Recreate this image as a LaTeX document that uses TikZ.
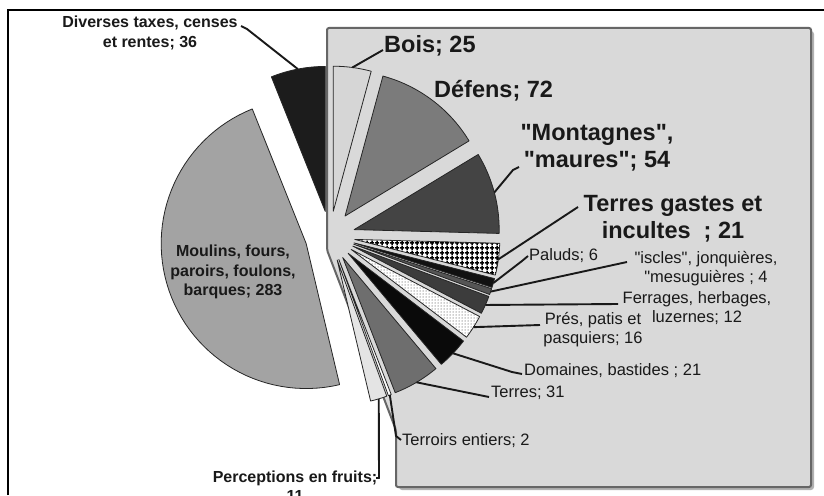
\documentclass[tikz,border=0pt]{standalone}
\usepackage{fontspec}
\setmainfont{Liberation Sans}[Ligatures=TeXOff]
\usetikzlibrary{patterns}
\pgfdeclarepatternformonly{pgrid}{\pgfpointorigin}{\pgfpoint{5pt}{5pt}}{\pgfpoint{5pt}{5pt}}{%
 \pgfsetlinewidth{1.8pt}%
 \pgfpathmoveto{\pgfpoint{0pt}{2.5pt}}\pgfpathlineto{\pgfpoint{5pt}{2.5pt}}%
 \pgfpathmoveto{\pgfpoint{2.5pt}{0pt}}\pgfpathlineto{\pgfpoint{2.5pt}{5pt}}%
 \pgfusepath{stroke}}
\pgfdeclarepatternformonly{pdots}{\pgfpoint{-1pt}{-1pt}}{\pgfpoint{1pt}{1pt}}{\pgfpoint{3pt}{3pt}}{%
 \pgfpathcircle{\pgfpointorigin}{0.75pt}\pgfusepath{fill}}
\definecolor{boxbg}{HTML}{D9D9D9}
\definecolor{boxln}{HTML}{666666}
\definecolor{boisc}{HTML}{D6D6D6}
\definecolor{defc}{HTML}{7B7B7B}
\definecolor{montc}{HTML}{444444}
\definecolor{paluc}{HTML}{111111}
\definecolor{iscc}{HTML}{555555}
\definecolor{ferc}{HTML}{3C3C3C}
\definecolor{domc}{HTML}{0A0A0A}
\definecolor{terc}{HTML}{6E6E6E}
\definecolor{perc}{HTML}{E4E4E4}
\definecolor{moulc}{HTML}{A3A3A3}
\definecolor{divc}{HTML}{1C1C1C}
\newcommand\pieslice[4]{%
 \pgfmathsetmacro\tA{#1*0.6060606}%
 \pgfmathsetmacro\tB{#2*0.6060606}%
 \pgfmathsetmacro\tM{(\tA+\tB)/2}%
 \pgfmathsetmacro\ax{330+25*sin(\tM)}%
 \pgfmathsetmacro\ay{236-25*cos(\tM)}%
 \pgfmathsetmacro\aA{\tA-90}%
 \pgfmathsetmacro\aB{\tB-90}%
 \path[#3] (\ax,\ay) -- plot[domain=\aA:\aB, samples=60, variable=\t] ({\ax+145*cos(\t)},{\ay+145*sin(\t)}) -- cycle;
 \coordinate (#4) at ({\ax+145*sin(\tM)},{\ay-145*cos(\tM)});
}
\begin{document}
\begin{tikzpicture}[x=1pt,y=-1pt,
 slice/.style={draw=black!85, line width=0.8pt, line join=round},
 big/.style={font=\bfseries\fontsize{23.5}{27}\selectfont, align=center, inner sep=0pt, text=black!90},
 smallb/.style={font=\bfseries\fontsize{16}{19.5}\selectfont, align=center, inner sep=0pt, text=black!90},
 smallr/.style={font=\fontsize{16.5}{19}\selectfont, align=center, inner sep=0pt, text=black!90},
 lead/.style={line width=1.9pt, black!90, line join=round}]
\useasboundingbox (0,0) rectangle (824,495);
\fill[white] (0,0) rectangle (824,495);
% grey callout box with shadow
\path[fill=gray!60, rounded corners=3pt] (330,31) -- (814,31) -- (814,490) -- (399,490) -- (399,433) -- (330,253) -- cycle;
\path[fill=boxbg, draw=boxln, line width=2pt, rounded corners=2pt] (327,28) -- (811,28) -- (811,487) -- (396,487) -- (396,430) -- (327,250) -- cycle;
% slices
\pieslice{0}{25}{slice, fill=boisc}{sBois}
\pieslice{25}{97}{slice, fill=defc}{sDef}
\pieslice{97}{151}{slice, fill=montc}{sMont}
\pieslice{151}{172}{slice, preaction={fill=white}, pattern=pgrid, pattern color=black}{sGast}
\pieslice{172}{178}{slice, fill=paluc}{sPal}
\pieslice{178}{182}{slice, fill=iscc}{sIsc}
\pieslice{182}{194}{slice, fill=ferc}{sFer}
\pieslice{194}{210}{slice, preaction={fill=white}, pattern=pdots, pattern color=gray!75}{sPres}
\pieslice{210}{231}{slice, fill=domc}{sDom}
\pieslice{231}{262}{slice, fill=terc}{sTer}
\pieslice{262}{264}{slice, fill=white}{sTerr}
\pieslice{264}{275}{slice, fill=perc}{sPerc}
\pieslice{275}{558}{slice, fill=moulc}{sMoul}
\pieslice{558}{594}{slice, fill=divc}{sDiv}
% labels
\node[smallb] (lDiv) at (150,33) {Diverses taxes, censes\\et rentes; 36};
\node[big, anchor=west] (lBois) at (384,46) {Bois; 25};
\node[big, anchor=west] (lDef) at (434,91) {Défens; 72};
\node[big] (lMont) at (597,148) {"Montagnes",\\"maures"; 54};
\node[big] (lGast) at (673,219) {Terres gastes et\\incultes~~; 21};
\node[smallr, anchor=west] (lPal) at (529,256) {Paluds; 6};
\node[smallr] (lIsc) at (706,269) {"iscles", jonquières,\\"mesuguières ; 4};
\node[smallr] (lFer) at (697,308) {Ferrages, herbages,\\luzernes; 12};
\node[smallr] (lPres) at (593,330) {Prés, patis et\\pasquiers; 16};
\node[smallr, anchor=west] (lDom) at (524,371) {Domaines, bastides ; 21};
\node[smallr, anchor=west] (lTer) at (491,393) {Terres; 31};
\node[smallr, anchor=west] (lTerr) at (402,441) {Terroirs entiers; 2};
\node[smallb] (lPerc) at (295,486) {Perceptions en fruits;\\11};
\node[smallb] (lMoul) at (233,272) {Moulins, fours,\\paroirs, foulons,\\barques; 283};
% leader bends
\coordinate (kDiv1) at (241,26);
\coordinate (kDiv2) at (247,29);
\coordinate (kBois) at (383,50);
\coordinate (kMont1) at (519,167);
\coordinate (kMont2) at (513,170);
\coordinate (kGast) at (578,207);
\coordinate (kPal1) at (528,256);
\coordinate (kPal2) at (522,261);
\coordinate (kIsc) at (627,262);
\coordinate (kFer) at (618,304);
\coordinate (kPres) at (540,325);
\coordinate (kDom1) at (522,374);
\coordinate (kDom2) at (512,372);
\coordinate (kTer) at (489,397);
\coordinate (kTerr1) at (396,436);
\coordinate (kTerr2) at (401,440);
\coordinate (kPerc1) at (379,478);
\coordinate (kPerc2) at (376,478);
% leaders
\draw[lead] (kDiv1) -- (kDiv2) -- (sDiv);
\draw[lead] (kBois) -- (sBois);
\draw[lead] (kMont1) -- (kMont2) -- (sMont);
\draw[lead] (kGast) -- (sGast);
\draw[lead] (kPal1) -- (kPal2) -- (sPal);
\draw[lead] (kIsc) -- (sIsc);
\draw[lead] (kFer) -- (sFer);
\draw[lead] (kPres) -- (sPres);
\draw[lead] (kDom1) -- (kDom2) -- (sDom);
\draw[lead] (kTer) -- (sTer);
\draw[lead] (sTerr) -- (kTerr1) -- (kTerr2);
\draw[lead] (sPerc) -- (kPerc1) -- (kPerc2);
% outer frame
\draw[line width=1.5pt] (8,495) -- (8,10) -- (824,10);
\end{tikzpicture}
\end{document}
